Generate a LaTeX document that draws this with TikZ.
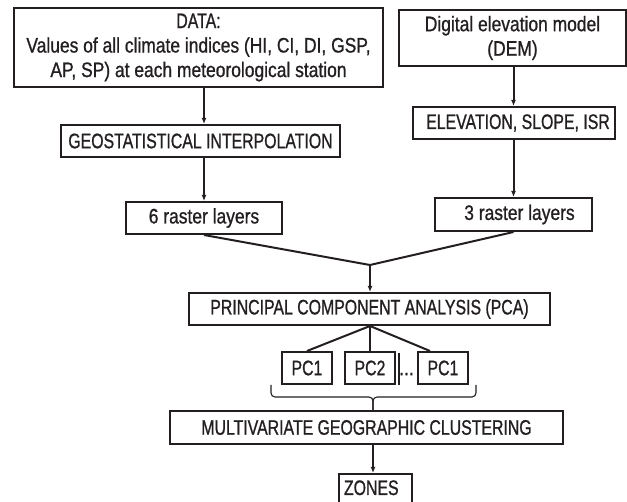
\documentclass[tikz,border=0pt]{standalone}
\usepackage{fontspec}
\setmainfont[FakeStretch=0.83, FakeBold=0.9]{Liberation Sans}
\newfontfamily\capsfont[FakeStretch=0.755, FakeBold=0.9]{Liberation Sans}
\usetikzlibrary{arrows.meta}
\definecolor{ink}{HTML}{231F20}

\begin{document}
\begin{tikzpicture}[x=1pt, y=-1pt,
		box/.style={draw=ink, line width=2pt, text=ink, inner sep=0pt, align=center, font=\fontsize{21}{24.5}\selectfont},
		capsbox/.style={box, font=\fontsize{21}{24.5}\selectfont\capsfont},
		link/.style={draw=ink, line width=2pt},
		arr/.style={link, -{Latex[length=6pt,width=5pt]}}]
		%%%%% START %%%%%
		\useasboundingbox (0, 0) rectangle (627, 502);
		
		\node[box, minimum width=369pt, minimum height=79pt] (data) at (198.5, 47.5) {{\capsfont DATA:}\\Values of all climate indices (HI, CI, DI, GSP,\\AP, SP) at each meteorological station};
		\node[box, minimum width=227pt, minimum height=56pt] (dem) at (512.5, 38) {Digital elevation model\\(DEM)};
		
		\node[capsbox, minimum width=279pt, minimum height=32pt] (geo) at (200.5, 141) {GEOSTATISTICAL INTERPOLATION};
		\node[capsbox, minimum width=202pt, minimum height=32pt] (elev) at (514, 123) {\hspace{8pt}ELEVATION, SLOPE, ISR};
		
		\node[box, minimum width=156pt, minimum height=32pt] (r6) at (204, 218) {6 raster layers};
		\node[box, minimum width=157pt, minimum height=33pt] (r3) at (513.5, 214.5) {\hspace{12pt}3 raster layers};
		\coordinate (join) at (370, 265);
		
		\node[capsbox, minimum width=361pt, minimum height=32pt] (pca) at (369.5, 309) {PRINCIPAL COMPONENT ANALYSIS (PCA)};
		
		\node[capsbox, minimum width=50pt, minimum height=32pt] (pc1) at (307, 368) {PC1};
		\node[capsbox, minimum width=50pt, minimum height=32pt] (pc2) at (370, 368) {PC2};
		\node[capsbox, minimum width=50pt, minimum height=32pt] (pc3) at (443, 368) {PC1};
		\node[text=ink, inner sep=0pt, font=\fontsize{21}{24.5}\selectfont] (dots) at (406.5, 368) {\vphantom{P}...};
		\draw[ink, line width=1.4pt] ([xshift=3pt, yshift=-2pt]pc2.north east) -- ([xshift=3pt]pc2.south east);
		
		\node[capsbox, minimum width=393pt, minimum height=33pt] (multi) at (366.5, 427.5) {MULTIVARIATE GEOGRAPHIC CLUSTERING};
		\node[capsbox, anchor=north, text width=63pt, align=left, inner xsep=5pt, inner ysep=0pt, text height=21pt, text depth=17pt] (zones) at (375.5, 473) {ZONES};
		
		% brace under the PC boxes
		\coordinate (bl) at (271, 385);
		\coordinate (br) at (476, 385);
		\coordinate (tip) at (multi.north -| 373, 0);
		\draw[ink, line width=1.1pt, rounded corners=4pt] (bl) -- (bl |- 0, 397) -- (tip |- 0, 397) -- (tip);
		\draw[ink, line width=1.1pt, rounded corners=4pt] (br) -- (br |- 0, 397) -- (tip |- 0, 397) -- (tip);
		
		% arrows
		\draw[arr] (data.south -| r6.north) -- (geo.north -| r6.north);
		\draw[arr] (geo.south -| r6.north) -- (r6.north);
		\draw[arr] (dem.south -| r3.north) -- (elev.north -| r3.north);
		\draw[arr] (elev.south -| r3.north) -- (r3.north);
		\draw[link] (r6.south) -- (join) -- (r3.south);
		\draw[arr] (join) -- (pca.north -| join);
		\draw[link] (pca.south -| pc2.north) -- (pc1.north);
		\draw[link] (pca.south -| pc2.north) -- (pc2.north);
		\draw[link] (pca.south -| pc2.north) -- ([xshift=-13pt]pc3.north);
		\draw[arr] (multi.south -| tip) -- (zones.north -| tip);
		
		%%%%% END %%%%%
	\end{tikzpicture}
\end{document}
